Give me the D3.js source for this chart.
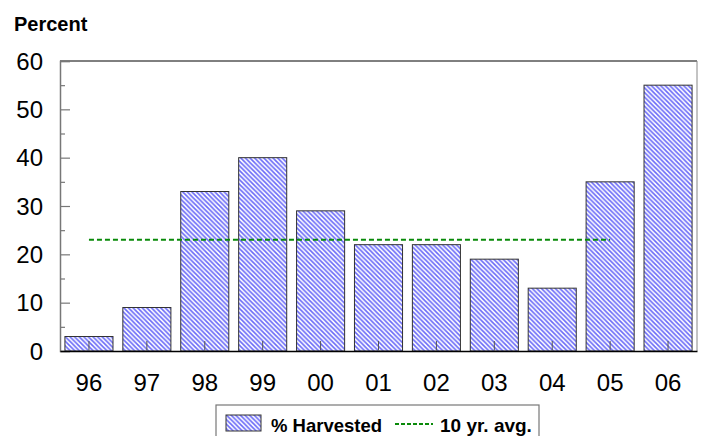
<!DOCTYPE html>
<html><head><meta charset="utf-8">
<script src="https://cdn.jsdelivr.net/npm/d3@7"></script>
<style>body{margin:0;background:#fff}svg{display:block;font-family:"Liberation Sans",Arial,sans-serif}</style>
</head><body>
<svg id="c" width="703" height="436"></svg>
<script>
const categories = ["96","97","98","99","00","01","02","03","04","05","06"];
const harvested = [3, 9, 33, 40, 29, 22, 22, 19, 13, 35, 55];
const avgValue = 23;
const avgStart = "96", avgEnd = "05";
const yTicks = [0, 10, 20, 30, 40, 50, 60];
const yMinorTicks = [5, 15, 25, 35, 45, 55];

const svg = d3.select("#c");
const L = 60, R = 697, T = 61, B = 351;
const x = d3.scaleBand().domain(categories).range([L, R]).paddingInner(0.17).paddingOuter(0.085);
const y = d3.scaleLinear().domain([0, 60]).range([B, T]);

const P = 4.6;
const defs = svg.append("defs");
const pat = defs.append("pattern").attr("id", "hatch").attr("patternUnits", "userSpaceOnUse")
  .attr("width", P).attr("height", P);
pat.append("rect").attr("width", P).attr("height", P).attr("fill", "#fff");
pat.append("path").attr("d", `M-1,-1 L${P+1},${P+1} M${P-1},-1 L${P+1},1 M-1,${P-1} L1,${P+1}`)
  .attr("stroke", "#6a6af8").attr("stroke-width", 1.6);

// bars
svg.append("g").selectAll("rect").data(categories).join("rect")
  .attr("x", d => x(d)).attr("width", x.bandwidth())
  .attr("y", (d, i) => y(harvested[i])).attr("height", (d, i) => B - y(harvested[i]))
  .attr("fill", "url(#hatch)").attr("stroke", "#333").attr("stroke-width", 1);

// frame
svg.append("line").attr("x1", L).attr("x2", R).attr("y1", T).attr("y2", T).attr("stroke", "#000");
svg.append("line").attr("x1", R).attr("x2", R).attr("y1", T).attr("y2", B).attr("stroke", "#888");

// y axis
const yAxis = d3.axisRight(y).tickValues(yTicks).tickSize(10).tickFormat("");
const gy = svg.append("g").attr("transform", `translate(${L},0)`).call(yAxis);
gy.select(".domain").attr("stroke", "#777").attr("stroke-width", 1.5);
gy.selectAll(".tick line").attr("stroke", "#777").attr("stroke-width", 1.2);
const gym = svg.append("g").attr("transform", `translate(${L},0)`)
  .call(d3.axisRight(y).tickValues(yMinorTicks).tickSize(5).tickFormat(""));
gym.select(".domain").remove();
gym.selectAll(".tick line").attr("stroke", "#777").attr("stroke-width", 1.2);
svg.append("g").selectAll("text").data(yTicks).join("text")
  .attr("x", 43).attr("y", d => y(d)).attr("dy", "0.36em").attr("text-anchor", "end")
  .attr("font-size", 24).attr("fill", "#000").text(d => d);

// x axis
const gx = svg.append("g").attr("transform", `translate(0,${B})`)
  .call(d3.axisTop(x).tickSize(10).tickSizeOuter(0).tickFormat(""));
gx.select(".domain").attr("stroke", "#000").attr("stroke-width", 1.5);
gx.selectAll(".tick line").attr("stroke", "#555").attr("stroke-width", 1);
svg.append("g").selectAll("text").data(categories).join("text")
  .attr("x", d => x(d) + x.bandwidth() / 2).attr("y", 391).attr("text-anchor", "middle")
  .attr("font-size", 24).attr("fill", "#000").text(d => d);

// average line
svg.append("line")
  .attr("x1", x(avgStart) + x.bandwidth() / 2).attr("x2", x(avgEnd) + x.bandwidth() / 2)
  .attr("y1", y(avgValue)).attr("y2", y(avgValue))
  .attr("stroke", "#0a8a0a").attr("stroke-width", 2).attr("stroke-dasharray", "5,3");

// y title
svg.append("text").attr("x", 14).attr("y", 31).attr("font-size", 20).attr("font-weight", "bold").text("Percent");

// legend
const lg = svg.append("g");
lg.append("rect").attr("x", 216).attr("y", 405).attr("width", 323).attr("height", 40)
  .attr("fill", "#fff").attr("stroke", "#777").attr("stroke-width", 1.2);
lg.append("rect").attr("x", 226).attr("y", 415).attr("width", 35).attr("height", 16)
  .attr("fill", "url(#hatch)").attr("stroke", "#333");
lg.append("text").attr("x", 271).attr("y", 432).attr("font-size", 18.5).attr("font-weight", "bold").text("% Harvested");
lg.append("line").attr("x1", 395).attr("x2", 433).attr("y1", 424).attr("y2", 424)
  .attr("stroke", "#0a8a0a").attr("stroke-width", 2).attr("stroke-dasharray", "4,2");
lg.append("text").attr("x", 440).attr("y", 432).attr("font-size", 19).attr("font-weight", "bold").text("10 yr. avg.");
</script>
</body></html>
